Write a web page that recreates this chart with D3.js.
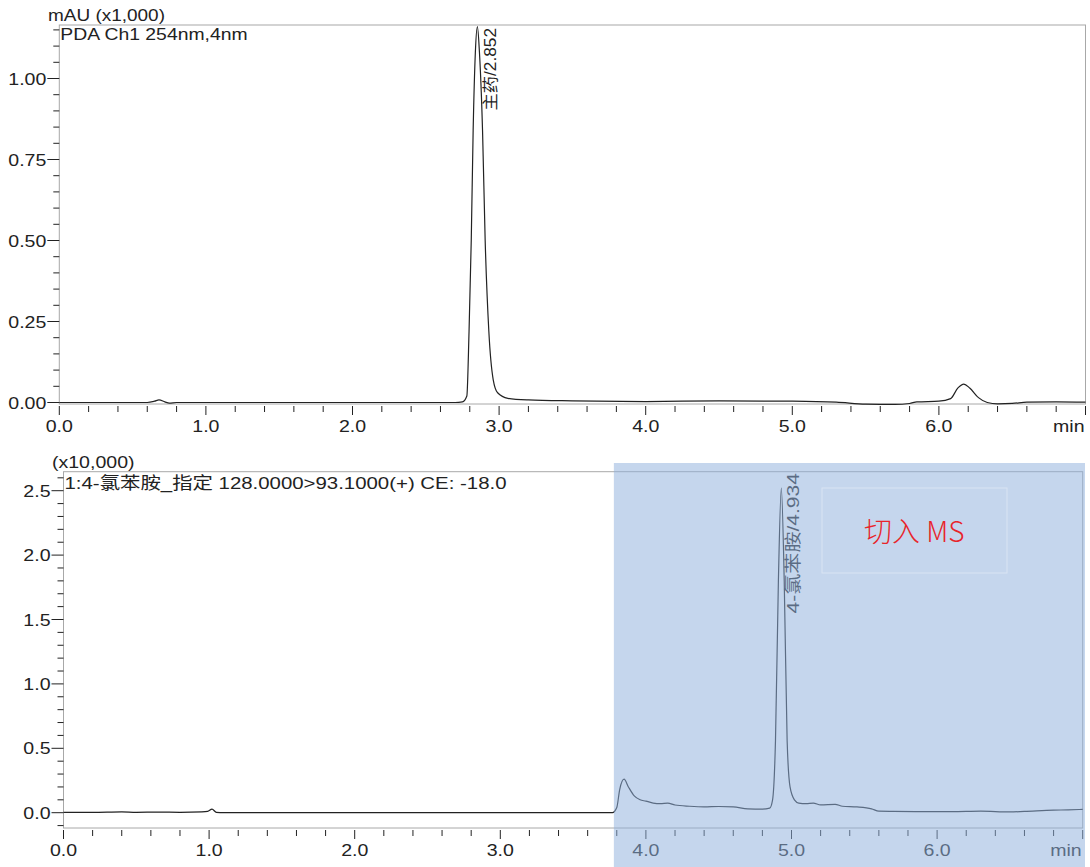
<!DOCTYPE html>
<html>
<head>
<meta charset="utf-8">
<script src="https://cdn.jsdelivr.net/npm/d3@7"></script>
<style>
    body { margin: 0; background: #fff; }
    svg text { font-family: "Liberation Sans", "Noto Sans CJK SC", sans-serif; fill: #222; }
    .frame { fill: none; stroke: #a8a8a8; stroke-width: 1; }
    .tick-line { stroke: #222; stroke-width: 1; }
    .trace { fill: none; stroke: #222; stroke-width: 1.2; }
</style>
</head>
<body>
<div id="chart"></div>
<script>
// ---DATA------------------------------------------------------------------
// top panel: PDA Ch1 254nm (mAU x1,000)
let pdaTime = [0.0, 0.3, 0.6, 0.65, 0.68, 0.72, 0.75, 0.8, 1.2, 2.0, 2.5, 2.7, 2.75, 2.78, 2.795, 2.81, 2.823, 2.838, 2.852,
    2.866, 2.887, 2.905, 2.93, 2.96, 2.99, 3.06, 3.2, 3.5, 4.0, 4.5, 5.0, 5.3, 5.5, 5.7, 5.8, 5.85, 6.0, 6.08, 6.13,
    6.17, 6.21, 6.27, 6.33, 6.4, 6.5, 6.6, 6.8, 7.0];
let pdaValue = [0.0, 0.0, 0.0, 0.004, 0.008, 0.002, -0.002, 0.0, 0.0, 0.0, 0.0, 0.0, 0.002, 0.02, 0.22, 0.5, 0.84, 1.08, 1.16,
    1.08, 0.84, 0.5, 0.22, 0.07, 0.03, 0.013, 0.008, 0.005, 0.003, 0.005, 0.004, 0.001, -0.005, -0.006, -0.003, 0.002, 0.004, 0.012, 0.045,
    0.057, 0.045, 0.015, 0.0, -0.004, -0.003, 0.001, 0.002, 0.001];

// bottom panel: MRM 128.0000>93.1000 (x10,000)
let msTime = [0.0, 0.2, 0.4, 0.5, 0.65, 0.8, 0.95, 0.99, 1.02, 1.05, 1.1, 2.0, 3.0, 3.77, 3.8, 3.82, 3.85, 3.88, 3.92, 3.96,
    4.0, 4.05, 4.1, 4.15, 4.2, 4.3, 4.4, 4.5, 4.6, 4.7, 4.8, 4.85, 4.87, 4.89, 4.91, 4.93, 4.95, 4.97, 4.99, 5.02,
    5.05, 5.1, 5.15, 5.2, 5.3, 5.35, 5.45, 5.55, 5.6, 5.7, 5.9, 6.1, 6.3, 6.5, 6.6, 6.8, 6.9, 7.0];
let msValue = [0.003, 0.002, 0.006, 0.003, 0.005, 0.003, 0.006, 0.01, 0.028, 0.002, 0.0, 0.0, 0.0, 0.0, 0.04, 0.18, 0.26, 0.2, 0.13, 0.1,
    0.09, 0.075, 0.07, 0.075, 0.06, 0.05, 0.045, 0.048, 0.045, 0.03, 0.028, 0.035, 0.1, 0.56, 1.8, 2.52, 1.8, 0.56, 0.2, 0.1,
    0.075, 0.07, 0.075, 0.06, 0.065, 0.05, 0.045, 0.03, 0.012, 0.01, 0.008, 0.008, 0.012, 0.006, 0.01, 0.02, 0.022, 0.026];

let xTickLabels = ["0.0", "1.0", "2.0", "3.0", "4.0", "5.0", "6.0"];
let pdaYLabels = ["0.00", "0.25", "0.50", "0.75", "1.00"];
let msYLabels = ["0.0", "0.5", "1.0", "1.5", "2.0", "2.5"];

let switchTime = 3.78;

let svg = d3.select("#chart").append("svg")
    .attr("width", 1090)
    .attr("height", 867);

// the instrument font is a little wider than Arial, so text is stretched along its run
let STRETCH = 1.15;

function stretchedText(g, x, y, str, size, anchor, rotate, stretch) {
    let rot = rotate ? " rotate(" + rotate + ")" : "";
    return g.append("text")
        .attr("transform", "translate(" + x + "," + y + ")" + rot + " scale(" + (stretch || STRETCH) + ",1)")
        .attr("text-anchor", anchor || "start")
        .style("font-size", size + "px")
        .text(str);
}

/**
 * Draws one chromatogram panel: frame, ticks, labels and trace
 */
function drawPanel(p) {
    let xScale = d3.scaleLinear().domain([0, 7]).range([p.left, p.right]);
    let yScale = d3.scaleLinear().domain([p.yRef0, p.yRef1]).range([p.y0, p.y1]);

    let g = svg.append("g");

    //---FRAME-----------------------------------------------------------------
    g.append("rect")
        .attr("class", "frame")
        .attr("x", p.left)
        .attr("y", p.top)
        .attr("width", p.right - p.left)
        .attr("height", p.bottom - p.top);

    //---Y TICKS---------------------------------------------------------------
    let yTicks = d3.range(p.yMinTick, p.yMaxTick + 1e-9, p.yMinor);
    g.selectAll(".ytick").data(yTicks).enter().append("line")
        .attr("class", "tick-line")
        .attr("x1", (d) => {
            let major = Math.abs(d / p.yMajor - Math.round(d / p.yMajor)) < 1e-6;
            return p.left - (major ? 12 : 6);
        })
        .attr("x2", p.left)
        .attr("y1", (d) => yScale(d))
        .attr("y2", (d) => yScale(d));

    p.yLabels.forEach((d) => {
        stretchedText(g, p.left - 13, yScale(+d) + 6, d, 17, "end");
    });

    //---X TICKS---------------------------------------------------------------
    let xTicks = d3.range(0, 7.0001, 0.2);
    g.selectAll(".xtick").data(xTicks).enter().append("line")
        .attr("class", "tick-line")
        .attr("x1", (d) => xScale(d))
        .attr("x2", (d) => xScale(d))
        .attr("y1", p.bottom + 2)
        .attr("y2", (d) => {
            let major = Math.abs(d - Math.round(d)) < 1e-6;
            return p.bottom + (major ? 11 : 8);
        });

    xTickLabels.forEach((d) => {
        stretchedText(g, xScale(+d), p.bottom + 28, d, 17, "middle");
    });
    stretchedText(g, p.right - 1, p.bottom + 28, "min", 17, "end");

    //---TITLES----------------------------------------------------------------
    stretchedText(g, p.unitX, p.unitY, p.unit, p.unitFont, "start");
    stretchedText(g, p.left + 1, p.titleY, p.title, 17, "start", 0, p.titleStretch);

    //---TRACE-----------------------------------------------------------------
    let points = p.time.map((t, i) => ({t: t, v: p.value[i]}));
    let lineGenerator = d3.line()
        .x((d) => xScale(d.t))
        .y((d) => yScale(d.v))
        .curve(d3.curveMonotoneX);

    g.append("path")
        .datum(points)
        .attr("class", "trace")
        .attr("d", lineGenerator);

    //---PEAK LABEL------------------------------------------------------------
    stretchedText(g, xScale(p.peakTime) + p.peakDx, p.peakTop, p.peakLabel, p.peakFont, "end", -90, p.peakStretch);

    return {xScale: xScale, yScale: yScale};
}

//---TOP PANEL (PDA)-----------------------------------------------------------
drawPanel({
    left: 59.3, right: 1085.5, top: 25, bottom: 404,
    yRef0: 0, yRef1: 1, y0: 402.5, y1: 78.5,
    yMinTick: 0, yMaxTick: 1.15, yMinor: 0.05, yMajor: 0.25,
    yLabels: pdaYLabels,
    unit: "mAU (x1,000)", unitX: 48, unitY: 21, unitFont: 16.5,
    title: "PDA Ch1 254nm,4nm", titleY: 40, titleStretch: 1.14,
    time: pdaTime, value: pdaValue,
    peakTime: 2.852, peakDx: 19, peakTop: 28, peakFont: 16, peakStretch: 1.08,
    peakLabel: "主药/2.852"
});

//---BOTTOM PANEL (MS)---------------------------------------------------------
let ms = drawPanel({
    left: 63.5, right: 1082.7, top: 471.7, bottom: 828,
    yRef0: 0, yRef1: 2.5, y0: 812.7, y1: 490.7,
    yMinTick: -0.1, yMaxTick: 2.6, yMinor: 0.1, yMajor: 0.5,
    yLabels: msYLabels,
    unit: "(x10,000)", unitX: 52, unitY: 468, unitFont: 17,
    title: "1:4-氯苯胺_指定 128.0000>93.1000(+) CE: -18.0", titleY: 489, titleStretch: 1.2,
    time: msTime, value: msValue,
    peakTime: 4.934, peakDx: 17, peakTop: 473, peakFont: 17, peakStretch: 1.24,
    peakLabel: "4-氯苯胺/4.934"
});

//---MS SWITCH HIGHLIGHT---------------------------------------------------------
let switchX = ms.xScale(switchTime);
svg.append("rect")
    .attr("x", switchX)
    .attr("y", 463)
    .attr("width", 1085 - switchX)
    .attr("height", 867 - 463)
    .style("fill", "rgb(143,176,220)")
    .style("opacity", 0.52);

svg.append("rect")
    .attr("x", 822)
    .attr("y", 488)
    .attr("width", 185)
    .attr("height", 85)
    .style("fill", "none")
    .style("stroke", "rgba(255,255,255,0.35)");

svg.append("text")
    .attr("x", 864)
    .attr("y", 542)
    .style("font-family", "'Noto Sans CJK SC', sans-serif")
    .style("font-weight", 300)
    .style("font-size", "28px")
    .style("fill", "#e8252b")
    .text("切入 MS");
</script>
</body>
</html>
